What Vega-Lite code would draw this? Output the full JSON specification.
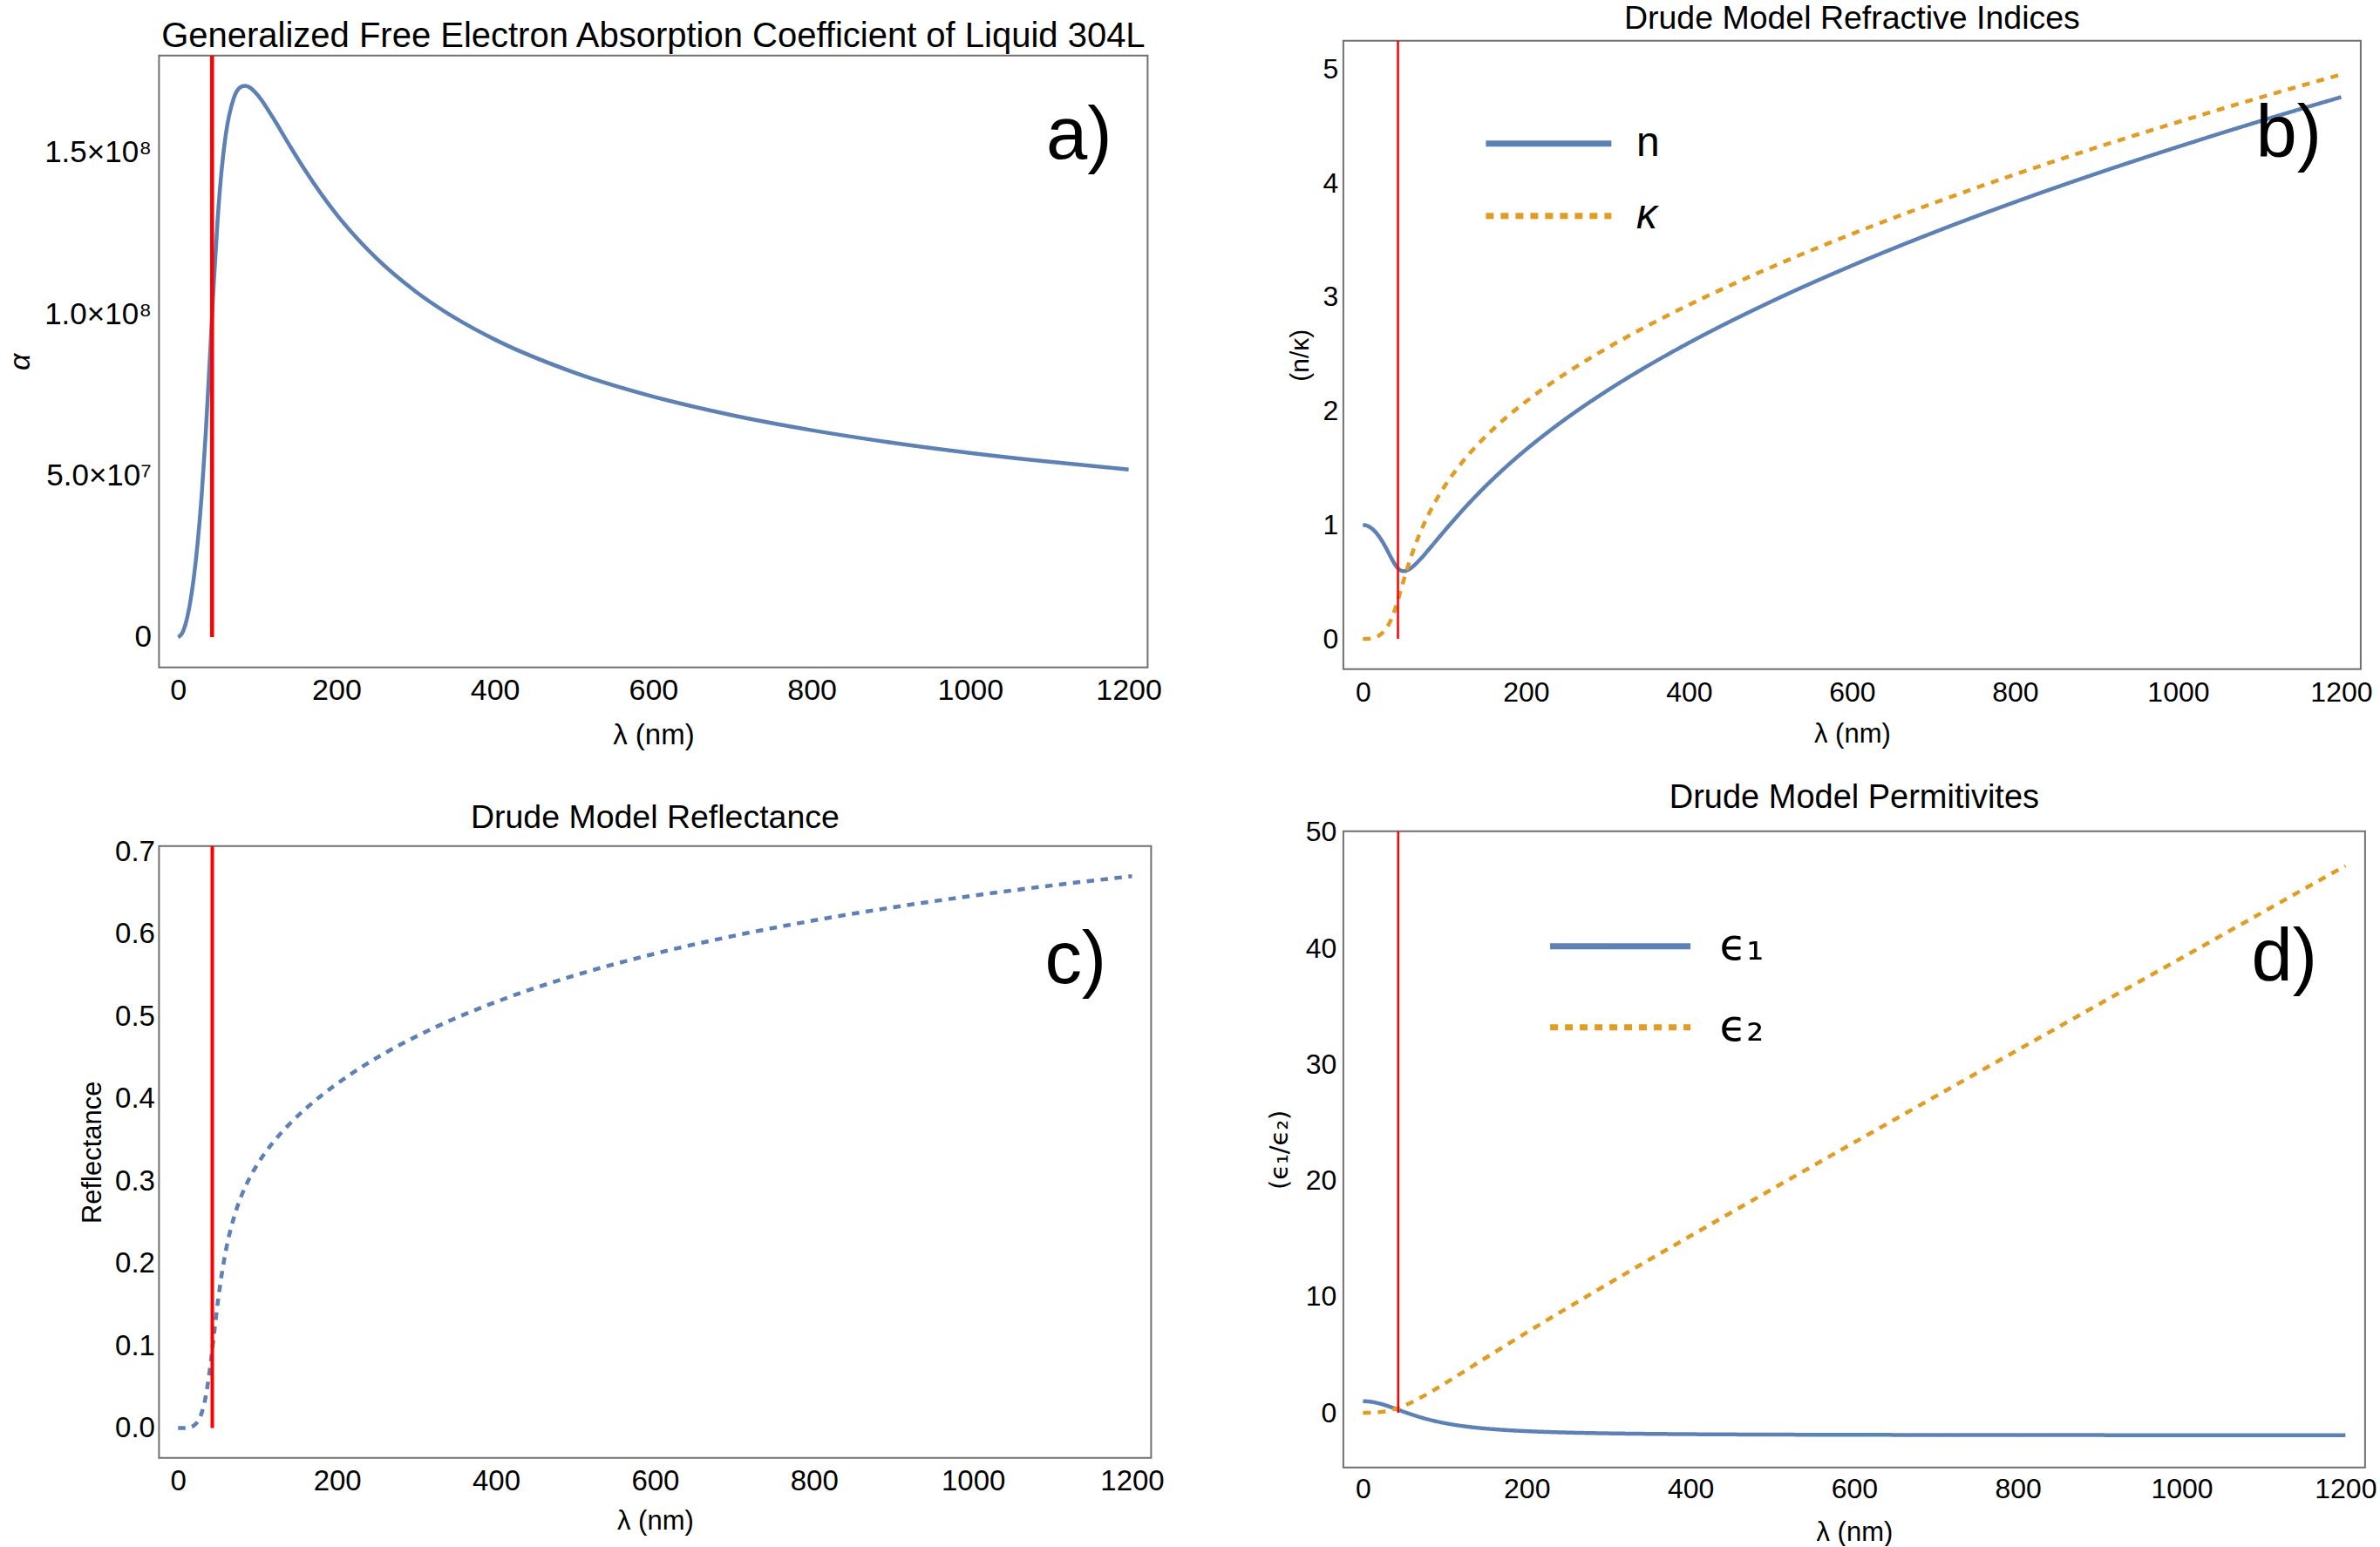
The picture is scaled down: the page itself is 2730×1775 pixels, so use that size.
{
  "$schema": "https://vega.github.io/schema/vega-lite/v6.json",
  "background": "white",
  "padding": {"left": 6.4, "top": 2.8, "right": 0, "bottom": 0},
  "config": {
    "view": {"stroke": null},
    "font": "Liberation Sans",
    "axis": {
      "labelFont": "Liberation Sans",
      "labelColor": "#000000",
      "titleFont": "Liberation Sans",
      "titleColor": "#000000",
      "titleFontWeight": "normal",
      "tickColor": "#707070",
      "tickWidth": 1.7,
      "tickSize": 0,
      "domain": false,
      "grid": false,
      "labelOverlap": false,
      "labelFlush": false,
      "labelBound": false
    }
  },
  "datasets": {
    "drude": [
      {"lam":0,"alpha":0,"n":1,"kappa":0,"R":0,"eps1":1,"eps2":0},
      {"lam":5,"alpha":1114000,"n":0.9934,"kappa":0.00044,"R":0.00001,"eps1":0.98685,"eps2":0.00088},
      {"lam":10,"alpha":4489000,"n":0.97371,"kappa":0.00357,"R":0.00018,"eps1":0.9481,"eps2":0.00696},
      {"lam":15,"alpha":10223000,"n":0.94123,"kappa":0.0122,"R":0.00096,"eps1":0.88576,"eps2":0.02297},
      {"lam":20,"alpha":18522000,"n":0.89651,"kappa":0.02948,"R":0.00322,"eps1":0.80285,"eps2":0.05286},
      {"lam":25,"alpha":29740000,"n":0.84063,"kappa":0.05917,"R":0.00852,"eps1":0.70316,"eps2":0.09948},
      {"lam":30,"alpha":44427000,"n":0.77588,"kappa":0.10606,"R":0.01943,"eps1":0.59074,"eps2":0.16458},
      {"lam":35,"alpha":63140000,"n":0.70748,"kappa":0.17587,"R":0.03954,"eps1":0.4696,"eps2":0.24885},
      {"lam":40,"alpha":85556000,"n":0.64627,"kappa":0.27234,"R":0.07158,"eps1":0.3435,"eps2":0.35201},
      {"lam":45,"alpha":108930000,"n":0.60646,"kappa":0.39009,"R":0.11235,"eps1":0.21563,"eps2":0.47315},
      {"lam":50,"alpha":129200000,"n":0.5941,"kappa":0.51407,"R":0.15293,"eps1":0.08868,"eps2":0.61082},
      {"lam":55,"alpha":144450000,"n":0.60366,"kappa":0.63224,"R":0.18739,"eps1":-0.03532,"eps2":0.76331},
      {"lam":60,"alpha":155070000,"n":0.62722,"kappa":0.74041,"R":0.21501,"eps1":-0.15481,"eps2":0.92879},
      {"lam":70,"alpha":166570000,"n":0.69603,"kappa":0.92791,"R":0.25509,"eps1":-0.37657,"eps2":1.2917},
      {"lam":80,"alpha":170390000,"n":0.7773,"kappa":1.08479,"R":0.28286,"eps1":-0.57257,"eps2":1.6864},
      {"lam":85,"alpha":170660000,"n":0.81963,"kappa":1.15436,"R":0.29397,"eps1":-0.66077,"eps2":1.8923},
      {"lam":90,"alpha":170220000,"n":0.86229,"kappa":1.2191,"R":0.30381,"eps1":-0.74268,"eps2":2.10243},
      {"lam":100,"alpha":167940000,"n":0.94726,"kappa":1.33646,"R":0.32071,"eps1":-0.88883,"eps2":2.53196},
      {"lam":120,"alpha":160710000,"n":1.11126,"kappa":1.53473,"R":0.34755,"eps1":-1.1205,"eps2":3.41095},
      {"lam":140,"alpha":152540000,"n":1.26429,"kappa":1.69949,"R":0.36906,"eps1":-1.28984,"eps2":4.29728},
      {"lam":160,"alpha":144650000,"n":1.4061,"kappa":1.84175,"R":0.38741,"eps1":-1.4149,"eps2":5.17937},
      {"lam":180,"alpha":137410000,"n":1.53789,"kappa":1.96829,"R":0.40363,"eps1":-1.50903,"eps2":6.05398},
      {"lam":200,"alpha":130880000,"n":1.66083,"kappa":2.08309,"R":0.41824,"eps1":-1.58092,"eps2":6.91934},
      {"lam":250,"alpha":117370000,"n":1.93724,"kappa":2.33507,"R":0.44965,"eps1":-1.69964,"eps2":9.04716},
      {"lam":300,"alpha":106970000,"n":2.18008,"kappa":2.55373,"R":0.47576,"eps1":-1.7688,"eps2":11.13465},
      {"lam":350,"alpha":98750000,"n":2.39853,"kappa":2.7505,"R":0.4981,"eps1":-1.81224,"eps2":13.19429},
      {"lam":400,"alpha":92090000,"n":2.59845,"kappa":2.9314,"R":0.51751,"eps1":-1.84118,"eps2":15.2342},
      {"lam":500,"alpha":81910000,"n":2.95728,"kappa":3.25908,"R":0.54991,"eps1":-1.87598,"eps2":19.27599},
      {"lam":600,"alpha":74430000,"n":3.27627,"kappa":3.55373,"R":0.57609,"eps1":-1.89524,"eps2":23.28616},
      {"lam":700,"alpha":68650000,"n":3.5663,"kappa":3.82432,"R":0.5979,"eps1":-1.90699,"eps2":27.27736},
      {"lam":800,"alpha":64030000,"n":3.83408,"kappa":4.07615,"R":0.61644,"eps1":-1.91465,"eps2":31.25635},
      {"lam":900,"alpha":60220000,"n":4.08408,"kappa":4.31273,"R":0.63246,"eps1":-1.91994,"eps2":35.22712},
      {"lam":1000,"alpha":57000000,"n":4.31879,"kappa":4.53604,"R":0.64647,"eps1":-1.92373,"eps2":39.18035},
      {"lam":1100,"alpha":54260000,"n":4.54253,"kappa":4.74986,"R":0.65897,"eps1":-1.92654,"eps2":43.15275},
      {"lam":1200,"alpha":51870000,"n":4.75505,"kappa":4.9537,"R":0.67013,"eps1":-1.92868,"eps2":47.11015}
    ]
  },
  "columns": 2,
  "bounds": "flush",
  "align": "each",
  "spacing": {"row": 186, "column": 220.5},
  "resolve": {"scale": {"color": "independent", "strokeDash": "independent"}},
  "concat": [
    {
      "width": 1134,
      "height": 719,
      "title": {"text": "Generalized Free Electron Absorption Coefficient of Liquid 304L", "font": "Liberation Sans", "fontSize": 40, "fontWeight": "normal", "color": "#000000", "anchor": "middle", "frame": "group", "baseline": "alphabetic", "offset": -47.6},
      "data": {"name": "drude"},
      "resolve": {"axis": {"x": "independent", "y": "independent"}},
      "layer": [
        {
          "data": {"values": [{}]},
          "mark": {"type": "rect", "fill": "#ffffff", "fillOpacity": 0, "stroke": "#707070", "strokeWidth": 2},
          "encoding": {
            "x": {"datum": -24, "type": "quantitative", "axis": null},
            "x2": {"datum": 1224},
            "y": {"datum": -9400000, "type": "quantitative", "axis": null},
            "y2": {"datum": 180000000}
          }
        },
        {
          "mark": {"type": "line", "color": "#5E81B5", "strokeWidth": 4.5, "interpolate": "monotone"},
          "encoding": {
            "x": {"field": "lam", "type": "quantitative",
              "scale": {"domain": [-24, 1224], "nice": false, "zero": false},
              "axis": {"orient": "bottom", "values": [0,50,100,150,200,250,300,350,400,450,500,550,600,650,700,750,800,850,900,950,1000,1050,1100,1150,1200],
                "labelExpr": "datum.value % 200 === 0 ? format(datum.value, 'd') : ''",
                "labelFontSize": 34, "labelBaseline": "alphabetic", "labelPadding": 36.6,
                "title": "λ (nm)", "titleFontSize": 33, "titleX": 567, "titleY": 87.3, "titleBaseline": "alphabetic", "titleAlign": "center",
                "encode": {"ticks": {"update": {"y2": {"signal": "-702"}, "strokeDash": {"signal": "datum.value % 200 === 0 ? [8.5, 685, 8.5] : [5, 692, 5]"}}}}}},
            "y": {"field": "alpha", "type": "quantitative",
              "scale": {"domain": [-9400000, 184587000], "nice": false, "zero": false},
              "axis": {"orient": "left", "values": [0,10000000,20000000,30000000,40000000,50000000,60000000,70000000,80000000,90000000,100000000,110000000,120000000,130000000,140000000,150000000,160000000,170000000],
                "labelExpr": "datum.value === 0 ? '0' : datum.value === 50000000 ? '5.0×10⁷' : datum.value === 100000000 ? '1.0×10⁸' : datum.value === 150000000 ? '1.5×10⁸' : ''",
                "labelFontSize": 35, "labelPadding": 9, "labelAlign": "right", "labelBaseline": "middle",
                "title": "α", "titleFontSize": 34, "titleFontStyle": "italic", "titleX": -149, "titleY": 368, "titleBaseline": "alphabetic", "titleAlign": "center",
                "encode": {"ticks": {"update": {"x2": {"signal": "1134"}, "strokeDash": {"signal": "round(datum.value / 10000000) % 5 === 0 ? [8.5, 1117, 8.5] : [5, 1124, 5]"}}}}}}
          }
        },
        {
          "data": {"values": [{}]},
          "mark": {"type": "rule", "color": "#FF0000", "strokeWidth": 4.5},
          "encoding": {
            "x": {"datum": 43, "type": "quantitative", "axis": null},
            "y": {"datum": 0, "type": "quantitative", "axis": null},
            "y2": {"datum": 180000000}
          }
        },
        {
          "data": {"values": [{}]},
          "mark": {"type": "text", "text": "a)", "font": "Liberation Sans", "fontSize": 85, "align": "center", "baseline": "alphabetic", "color": "#000000"},
          "encoding": {
            "x": {"datum": 1137.6, "type": "quantitative", "axis": null},
            "y": {"datum": 148080000, "type": "quantitative", "axis": null}
          }
        }
      ]
    },
    {
      "width": 1167,
      "height": 721,
      "title": {"text": "Drude Model Refractive Indices", "font": "Liberation Sans", "fontSize": 37.5, "fontWeight": "normal", "color": "#000000", "anchor": "middle", "frame": "group", "baseline": "alphabetic", "offset": -33.5},
      "data": {"name": "drude"},
      "resolve": {"axis": {"x": "independent", "y": "independent"}},
      "layer": [
        {
          "data": {"values": [{}]},
          "mark": {"type": "rect", "fill": "#ffffff", "fillOpacity": 0, "stroke": "#707070", "strokeWidth": 2},
          "encoding": {
            "x": {"datum": -24, "type": "quantitative", "axis": null},
            "x2": {"datum": 1224},
            "y": {"datum": -0.266, "type": "quantitative", "axis": null},
            "y2": {"datum": 5.249}
          }
        },
        {
          "transform": [{"fold": ["n", "kappa"], "as": ["series", "value"]}],
          "mark": {"type": "line", "strokeWidth": 4.5, "interpolate": "monotone"},
          "encoding": {
            "x": {"field": "lam", "type": "quantitative",
              "scale": {"domain": [-24, 1224], "nice": false, "zero": false},
              "axis": {"orient": "bottom", "values": [0,50,100,150,200,250,300,350,400,450,500,550,600,650,700,750,800,850,900,950,1000,1050,1100,1150,1200],
                "labelExpr": "datum.value % 200 === 0 ? format(datum.value, 'd') : ''",
                "labelFontSize": 32, "labelBaseline": "alphabetic", "labelPadding": 36.5,
                "title": "λ (nm)", "titleFontSize": 31, "titleX": 583.5, "titleY": 83.3, "titleBaseline": "alphabetic", "titleAlign": "center",
                "encode": {"ticks": {"update": {"y2": {"signal": "-721"}, "strokeDash": {"signal": "datum.value % 200 === 0 ? [8.5, 704, 8.5] : [5, 711, 5]"}}}}}},
            "y": {"field": "value", "type": "quantitative",
              "scale": {"domain": [-0.266, 5.249], "nice": false, "zero": false},
              "axis": {"orient": "left", "values": [-0.2,0,0.2,0.4,0.6,0.8,1,1.2,1.4,1.6,1.8,2,2.2,2.4,2.6,2.8,3,3.2,3.4,3.6,3.8,4,4.2,4.4,4.6,4.8,5,5.2],
                "labelExpr": "abs(round(datum.value * 5)) % 5 === 0 ? format(datum.value, 'd') : ''",
                "labelFontSize": 32, "labelPadding": 6, "labelAlign": "right", "labelBaseline": "middle",
                "title": "(n/κ)", "titleFontSize": 30, "titleX": -40.8, "titleY": 360.5, "titleBaseline": "alphabetic", "titleAlign": "center",
                "encode": {"ticks": {"update": {"x2": {"signal": "1167"}, "strokeDash": {"signal": "abs(round(datum.value * 5)) % 5 === 0 ? [8.5, 1150, 8.5] : [5, 1157, 5]"}}}}}},
            "color": {"field": "series", "type": "nominal",
              "scale": {"domain": ["n", "kappa"], "range": ["#5E81B5", "#E19C24"]},
              "legend": {"orient": "none", "legendX": 160, "legendY": 88, "title": null, "padding": 0, "direction": "vertical",
                "symbolType": "stroke", "symbolSize": 20736, "symbolStrokeWidth": 7, "clipHeight": 60, "rowPadding": 23,
                "labelOffset": 25, "labelFont": "Liberation Sans", "labelFontSize": 48, "labelColor": "#000000", "labelBaseline": "middle",
                "labelExpr": "datum.label === 'kappa' ? 'κ' : datum.label",
                "encode": {
                  "symbols": {"update": {"strokeDash": {"signal": "datum.value === 'kappa' ? [16, 13] : [1, 0]"}}},
                  "labels": {"update": {"fontStyle": {"signal": "datum.value === 'kappa' ? 'italic' : 'normal'"}}}
                }}},
            "strokeDash": {"field": "series", "type": "nominal",
              "scale": {"domain": ["n", "kappa"], "range": [[1, 0], [9, 8]]},
              "legend": null}
          }
        },
        {
          "data": {"values": [{}]},
          "mark": {"type": "rule", "color": "#FF0000", "strokeWidth": 2.5},
          "encoding": {
            "x": {"datum": 43, "type": "quantitative", "axis": null},
            "y": {"datum": 0, "type": "quantitative", "axis": null},
            "y2": {"datum": 5.249}
          }
        },
        {
          "data": {"values": [{}]},
          "mark": {"type": "text", "text": "b)", "font": "Liberation Sans", "fontSize": 85, "align": "center", "baseline": "alphabetic", "color": "#000000"},
          "encoding": {
            "x": {"datum": 1135.6, "type": "quantitative", "axis": null},
            "y": {"datum": 4.229, "type": "quantitative", "axis": null}
          }
        }
      ]
    },
    {
      "width": 1138,
      "height": 719,
      "title": {"text": "Drude Model Reflectance", "font": "Liberation Sans", "fontSize": 37.5, "fontWeight": "normal", "color": "#000000", "anchor": "middle", "frame": "group", "baseline": "alphabetic", "offset": -33.5},
      "data": {"name": "drude"},
      "resolve": {"axis": {"x": "independent", "y": "independent"}},
      "layer": [
        {
          "data": {"values": [{}]},
          "mark": {"type": "rect", "fill": "#ffffff", "fillOpacity": 0, "stroke": "#707070", "strokeWidth": 2},
          "encoding": {
            "x": {"datum": -24, "type": "quantitative", "axis": null},
            "x2": {"datum": 1224},
            "y": {"datum": -0.0362, "type": "quantitative", "axis": null},
            "y2": {"datum": 0.7067}
          }
        },
        {
          "mark": {"type": "line", "color": "#5E81B5", "strokeWidth": 4.5, "strokeDash": [8.5, 7.5], "interpolate": "monotone"},
          "encoding": {
            "x": {"field": "lam", "type": "quantitative",
              "scale": {"domain": [-24, 1224], "nice": false, "zero": false},
              "axis": {"orient": "bottom", "values": [0,50,100,150,200,250,300,350,400,450,500,550,600,650,700,750,800,850,900,950,1000,1050,1100,1150,1200],
                "labelExpr": "datum.value % 200 === 0 ? format(datum.value, 'd') : ''",
                "labelFontSize": 33, "labelBaseline": "alphabetic", "labelPadding": 36.5,
                "title": "λ (nm)", "titleFontSize": 31, "titleX": 569, "titleY": 81.5, "titleBaseline": "alphabetic", "titleAlign": "center",
                "encode": {"ticks": {"update": {"y2": {"signal": "-702"}, "strokeDash": {"signal": "datum.value % 200 === 0 ? [8.5, 685, 8.5] : [5, 692, 5]"}}}}}},
            "y": {"field": "R", "type": "quantitative",
              "scale": {"domain": [-0.0362, 0.72466], "nice": false, "zero": false},
              "axis": {"orient": "left", "values": [-0.02,0,0.02,0.04,0.06,0.08,0.1,0.12,0.14,0.16,0.18,0.2,0.22,0.24,0.26,0.28,0.3,0.32,0.34,0.36,0.38,0.4,0.42,0.44,0.46,0.48,0.5,0.52,0.54,0.56,0.58,0.6,0.62,0.64,0.66,0.68,0.7],
                "labelExpr": "abs(round(datum.value * 50)) % 5 === 0 ? format(datum.value, '.1f') : ''",
                "labelFontSize": 33, "labelPadding": 5, "labelAlign": "right", "labelBaseline": "middle",
                "title": "Reflectance", "titleFontSize": 31, "titleX": -67, "titleY": 368, "titleBaseline": "alphabetic", "titleAlign": "center",
                "encode": {"ticks": {"update": {"x2": {"signal": "1138"}, "strokeDash": {"signal": "abs(round(datum.value * 50)) % 5 === 0 ? [8.5, 1121, 8.5] : [5, 1128, 5]"}}}}}}
          }
        },
        {
          "data": {"values": [{}]},
          "mark": {"type": "rule", "color": "#FF0000", "strokeWidth": 4},
          "encoding": {
            "x": {"datum": 43, "type": "quantitative", "axis": null},
            "y": {"datum": 0, "type": "quantitative", "axis": null},
            "y2": {"datum": 0.7067}
          }
        },
        {
          "data": {"values": [{}]},
          "mark": {"type": "text", "text": "c)", "font": "Liberation Sans", "fontSize": 85, "align": "center", "baseline": "alphabetic", "color": "#000000"},
          "encoding": {
            "x": {"datum": 1129, "type": "quantitative", "axis": null},
            "y": {"datum": 0.5406, "type": "quantitative", "axis": null}
          }
        }
      ]
    },
    {
      "width": 1172,
      "height": 730,
      "title": {"text": "Drude Model Permitivites", "font": "Liberation Sans", "fontSize": 38, "fontWeight": "normal", "color": "#000000", "anchor": "middle", "frame": "group", "baseline": "alphabetic", "offset": -26.2},
      "data": {"name": "drude"},
      "resolve": {"axis": {"x": "independent", "y": "independent"}},
      "layer": [
        {
          "data": {"values": [{}]},
          "mark": {"type": "rect", "fill": "#ffffff", "fillOpacity": 0, "stroke": "#707070", "strokeWidth": 2},
          "encoding": {
            "x": {"datum": -24, "type": "quantitative", "axis": null},
            "x2": {"datum": 1224},
            "y": {"datum": -4.71, "type": "quantitative", "axis": null},
            "y2": {"datum": 50.08}
          }
        },
        {
          "transform": [{"fold": ["eps1", "eps2"], "as": ["series", "value"]}],
          "mark": {"type": "line", "strokeWidth": 4.5, "interpolate": "monotone"},
          "encoding": {
            "x": {"field": "lam", "type": "quantitative",
              "scale": {"domain": [-24, 1224], "nice": false, "zero": false},
              "axis": {"orient": "bottom", "values": [0,50,100,150,200,250,300,350,400,450,500,550,600,650,700,750,800,850,900,950,1000,1050,1100,1150,1200],
                "labelExpr": "datum.value % 200 === 0 ? format(datum.value, 'd') : ''",
                "labelFontSize": 32, "labelBaseline": "alphabetic", "labelPadding": 34.8,
                "title": "λ (nm)", "titleFontSize": 31, "titleX": 586, "titleY": 83.8, "titleBaseline": "alphabetic", "titleAlign": "center",
                "encode": {"ticks": {"update": {"y2": {"signal": "-730"}, "strokeDash": {"signal": "datum.value % 200 === 0 ? [8.5, 713, 8.5] : [5, 720, 5]"}}}}}},
            "y": {"field": "value", "type": "quantitative",
              "scale": {"domain": [-4.71, 50.08], "nice": false, "zero": false},
              "axis": {"orient": "left", "values": [-4,-2,0,2,4,6,8,10,12,14,16,18,20,22,24,26,28,30,32,34,36,38,40,42,44,46,48,50],
                "labelExpr": "datum.value % 10 === 0 ? format(datum.value, 'd') : ''",
                "labelFontSize": 32, "labelPadding": 8, "labelAlign": "right", "labelBaseline": "middle",
                "title": "(ϵ₁/ϵ₂)", "titleFont": "DejaVu Sans", "titleFontSize": 29, "titleX": -64, "titleY": 365, "titleBaseline": "alphabetic", "titleAlign": "center",
                "encode": {"ticks": {"update": {"x2": {"signal": "1172"}, "strokeDash": {"signal": "datum.value % 10 === 0 ? [8.5, 1155, 8.5] : [5, 1162, 5]"}}}}}},
            "color": {"field": "series", "type": "nominal",
              "scale": {"domain": ["eps1", "eps2"], "range": ["#5E81B5", "#E19C24"]},
              "legend": {"orient": "none", "legendX": 233.7, "legendY": 102, "title": null, "padding": 0, "direction": "vertical",
                "symbolType": "stroke", "symbolSize": 25921, "symbolStrokeWidth": 7, "clipHeight": 60, "rowPadding": 33,
                "labelOffset": 30, "labelFont": "DejaVu Sans", "labelFontSize": 50, "labelColor": "#000000", "labelBaseline": "middle",
                "labelExpr": "datum.label === 'eps1' ? 'ϵ₁' : 'ϵ₂'",
                "encode": {
                  "symbols": {"update": {"strokeDash": {"signal": "datum.value === 'eps2' ? [16, 16.5] : [1, 0]"}}}
                }}},
            "strokeDash": {"field": "series", "type": "nominal",
              "scale": {"domain": ["eps1", "eps2"], "range": [[1, 0], [9, 8]]},
              "legend": null}
          }
        },
        {
          "data": {"values": [{}]},
          "mark": {"type": "rule", "color": "#FF0000", "strokeWidth": 2.5},
          "encoding": {
            "x": {"datum": 43, "type": "quantitative", "axis": null},
            "y": {"datum": 0, "type": "quantitative", "axis": null},
            "y2": {"datum": 50.08}
          }
        },
        {
          "data": {"values": [{}]},
          "mark": {"type": "text", "text": "d)", "font": "Liberation Sans", "fontSize": 85, "align": "center", "baseline": "alphabetic", "color": "#000000"},
          "encoding": {
            "x": {"datum": 1125.3, "type": "quantitative", "axis": null},
            "y": {"datum": 37.23, "type": "quantitative", "axis": null}
          }
        }
      ]
    }
  ]
}
